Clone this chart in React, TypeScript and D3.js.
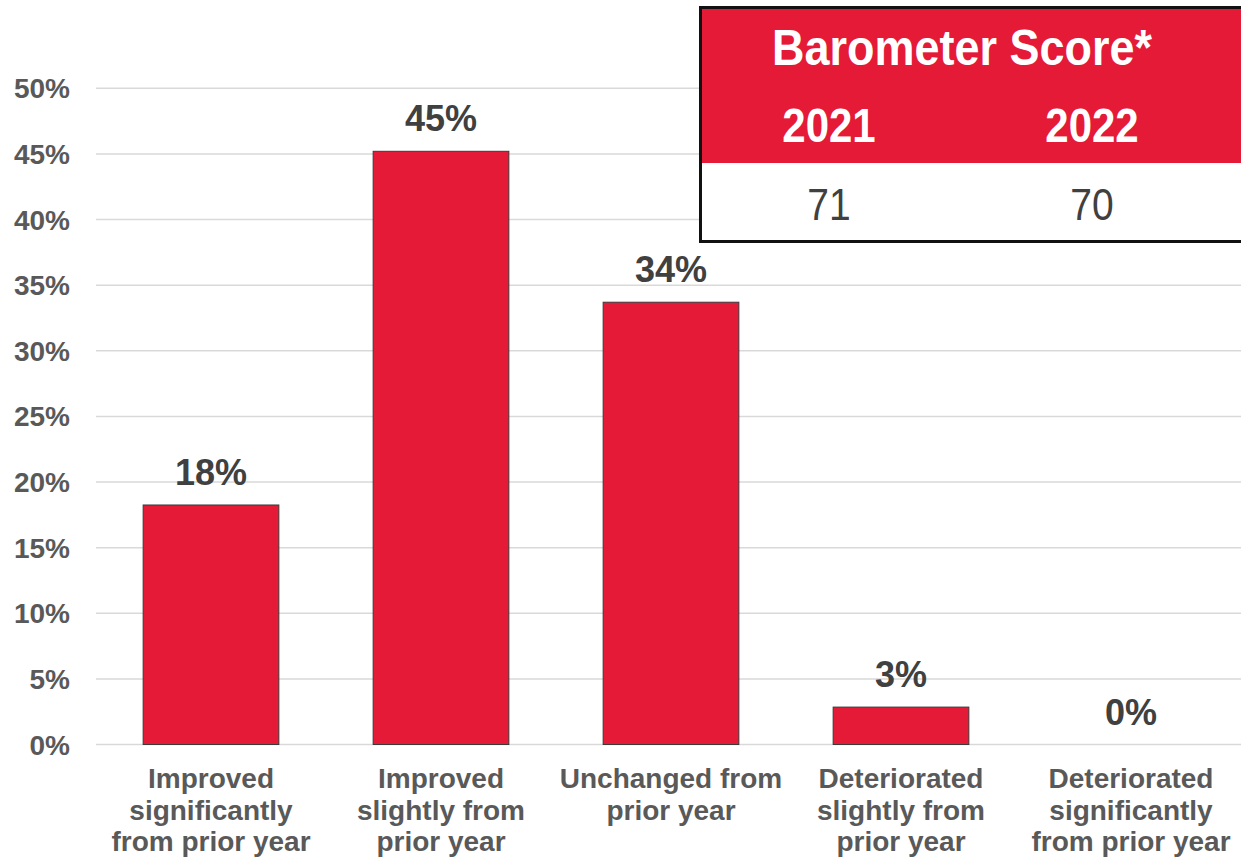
import React from "react";
import * as d3 from "d3";

const categories: string[][] = [
  ["Improved", "significantly", "from prior year"],
  ["Improved", "slightly from", "prior year"],
  ["Unchanged from", "prior year"],
  ["Deteriorated", "slightly from", "prior year"],
  ["Deteriorated", "significantly", "from prior year"],
];
const values: number[] = [18.25, 45.2, 33.7, 2.85, 0];
const valueLabels: string[] = ["18%", "45%", "34%", "3%", "0%"];
const yTicks: number[] = [0, 5, 10, 15, 20, 25, 30, 35, 40, 45, 50];
const scoreYears: string[] = ["2021", "2022"];
const scoreValues: string[] = ["71", "70"];
const scoreTitle = "Barometer Score*";

const W = 1241;
const H = 858;
const RED = "#e41a37";
const FONT = "'Liberation Sans', Arial, Helvetica, sans-serif";

export default function App() {
  const x = d3
    .scaleBand<number>()
    .domain(categories.map((_, i) => i))
    .range([96, 1246])
    .paddingInner(0.41)
    .paddingOuter(0.205);
  const y = d3.scaleLinear().domain([0, 50]).range([744.5, 88.3]);

  const boxX = 700.5;
  const boxY = 7.5;
  const boxW = 580;
  const boxH = 234;
  const headerBottom = 163;
  const colCenters = [829, 1092];

  return (
    <svg
      width={W}
      height={H}
      style={{ position: "absolute", left: 0, top: 0, background: "#fff" }}
      fontFamily={FONT}
    >
      {/* gridlines */}
      {yTicks.map((t) => (
        <line
          key={"g" + t}
          x1={96}
          x2={W}
          y1={y(t)}
          y2={y(t)}
          stroke="#d9d9d9"
          strokeWidth={1.5}
        />
      ))}
      {/* y tick labels */}
      {yTicks.map((t) => (
        <text
          key={"t" + t}
          x={70}
          y={y(t)}
          dy="0.36em"
          textAnchor="end"
          fontSize={28}
          fontWeight="bold"
          fill="#595959"
        >
          {t + "%"}
        </text>
      ))}
      {/* bars */}
      {values.map((v, i) =>
        v > 0 ? (
          <rect
            key={"b" + i}
            x={x(i)!}
            y={y(v)}
            width={x.bandwidth()}
            height={y(0) - y(v)}
            fill={RED}
            stroke="#3a3a3a"
            strokeWidth={1}
          />
        ) : null
      )}
      {/* value labels */}
      {values.map((v, i) => (
        <text
          key={"v" + i}
          x={x(i)! + x.bandwidth() / 2}
          y={y(v) - 20}
          textAnchor="middle"
          fontSize={36}
          fontWeight="bold"
          fill="#404040"
        >
          {valueLabels[i]}
        </text>
      ))}
      {/* category labels */}
      {categories.map((lines, i) => (
        <text
          key={"c" + i}
          x={x(i)! + x.bandwidth() / 2}
          textAnchor="middle"
          fontSize={28}
          fontWeight="bold"
          fill="#595959"
        >
          {lines.map((l, j) => (
            <tspan key={j} x={x(i)! + x.bandwidth() / 2} y={788 + j * 31.5}>
              {l}
            </tspan>
          ))}
        </text>
      ))}
      {/* score box */}
      <rect x={boxX} y={boxY} width={boxW} height={headerBottom - boxY} fill={RED} />
      <rect
        x={boxX}
        y={headerBottom}
        width={boxW}
        height={boxY + boxH - headerBottom}
        fill="#fff"
      />
      <rect
        x={boxX}
        y={boxY}
        width={boxW}
        height={boxH}
        fill="none"
        stroke="#111"
        strokeWidth={3}
      />
      <text
        transform={`translate(962,65) scale(1,1.12)`}
        textAnchor="middle"
        fontSize={45}
        fontWeight="bold"
        fill="#fff"
      >
        {scoreTitle}
      </text>
      {scoreYears.map((yr, i) => (
        <text
          key={"yr" + i}
          transform={`translate(${colCenters[i]},142) scale(1,1.13)`}
          textAnchor="middle"
          fontSize={42}
          fontWeight="bold"
          fill="#fff"
        >
          {yr}
        </text>
      ))}
      {scoreValues.map((sv, i) => (
        <text
          key={"sv" + i}
          transform={`translate(${colCenters[i]},220) scale(1,1.16)`}
          textAnchor="middle"
          fontSize={39}
          fill="#404040"
        >
          {sv}
        </text>
      ))}
    </svg>
  );
}
